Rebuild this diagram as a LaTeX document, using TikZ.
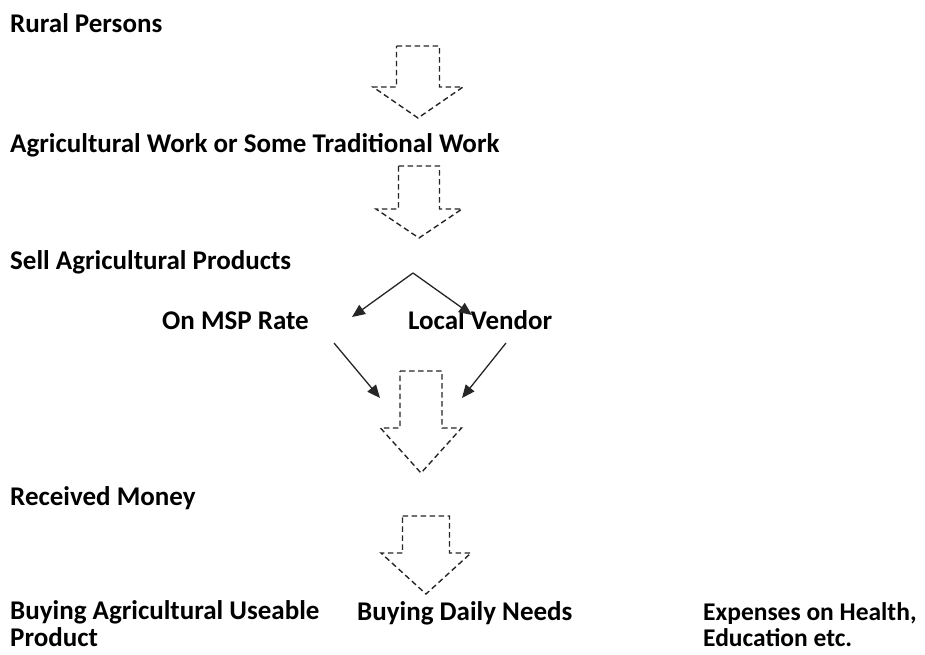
\documentclass[tikz,border=0pt]{standalone}
\usepackage{fontspec}
\setmainfont{Carlito}
\usetikzlibrary{arrows.meta}

% Dashed block arrow pointing down:
% #1 name, #2 centre x, #3 top y, #4 shaft half width,
% #5 shoulder y, #6 head half width, #7 tip y
\newcommand\DownBlock[7]{%
  \draw[blockline] (#2-#4,#3) -- (#2+#4,#3) -- (#2+#4,#5) -- (#2+#6,#5)
    -- (#2,#7) -- (#2-#6,#5) -- (#2-#4,#5) -- cycle;
  \coordinate (#1-tl) at (#2-#6,#5);
  \coordinate (#1-tr) at (#2+#6,#5);
}

\tikzset{
  label/.style={anchor=base west, inner sep=0pt, font=\fontsize{27}{27}\selectfont\bfseries, text=black},
  blockline/.style={draw=black!85, line width=1.4pt, dash pattern=on 5.5pt off 3.5pt, line join=miter},
  flow/.style={draw=black!85, line width=1.3pt, -{Triangle[length=13pt,width=11pt]}},
}

\begin{document}
\begin{tikzpicture}[x=1pt,y=-1pt]
  \useasboundingbox[fill=white] (0,0) rectangle (925,654);

  % texts
  \node[label] (rural) at (10,32) {Rural Persons};
  \node[label] (work) at (10,152) {Agricultural Work or Some Traditional Work};
  \node[label] (sell) at (10,269) {Sell Agricultural Products};
  \node[label] (msp) at (162,329) {On MSP Rate};
  \node[label] (vendor) at (408,329) {Local Vendor};
  \node[label] (money) at (10,505) {Received Money};
  \node[label, align=left] (agri) at (10,646) {Buying Agricultural Useable\\Product};
  \node[label] (daily) at (357,620) {Buying Daily Needs};
  \node[label, align=left, font=\fontsize{25.5}{26}\selectfont\bfseries] (health) at (703,646) {Expenses on Health,\\Education etc.};

  % dashed block arrows
  \DownBlock{b1}{418}{46}{21.5}{87}{45}{118}
  \DownBlock{b2}{419}{166}{20.5}{209}{43}{238}
  \DownBlock{b3}{421}{371}{21}{428}{40.5}{473}
  \DownBlock{b4}{426}{516}{23.5}{553}{45}{594}

  % solid connectors
  \coordinate (split) at (413,273);
  \coordinate (mspin) at (352,317);
  \coordinate (vendin) at (472,315);
  \coordinate (mspout) at (334,343);
  \coordinate (vendout) at (506,343);
  \coordinate (b3l) at (380,398);
  \coordinate (b3r) at (462,398);
  \draw[flow] (split) -- (mspin);
  \draw[flow] (split) -- (vendin);
  \draw[flow] (mspout) -- (b3l);
  \draw[flow] (vendout) -- (b3r);
\end{tikzpicture}
\end{document}
